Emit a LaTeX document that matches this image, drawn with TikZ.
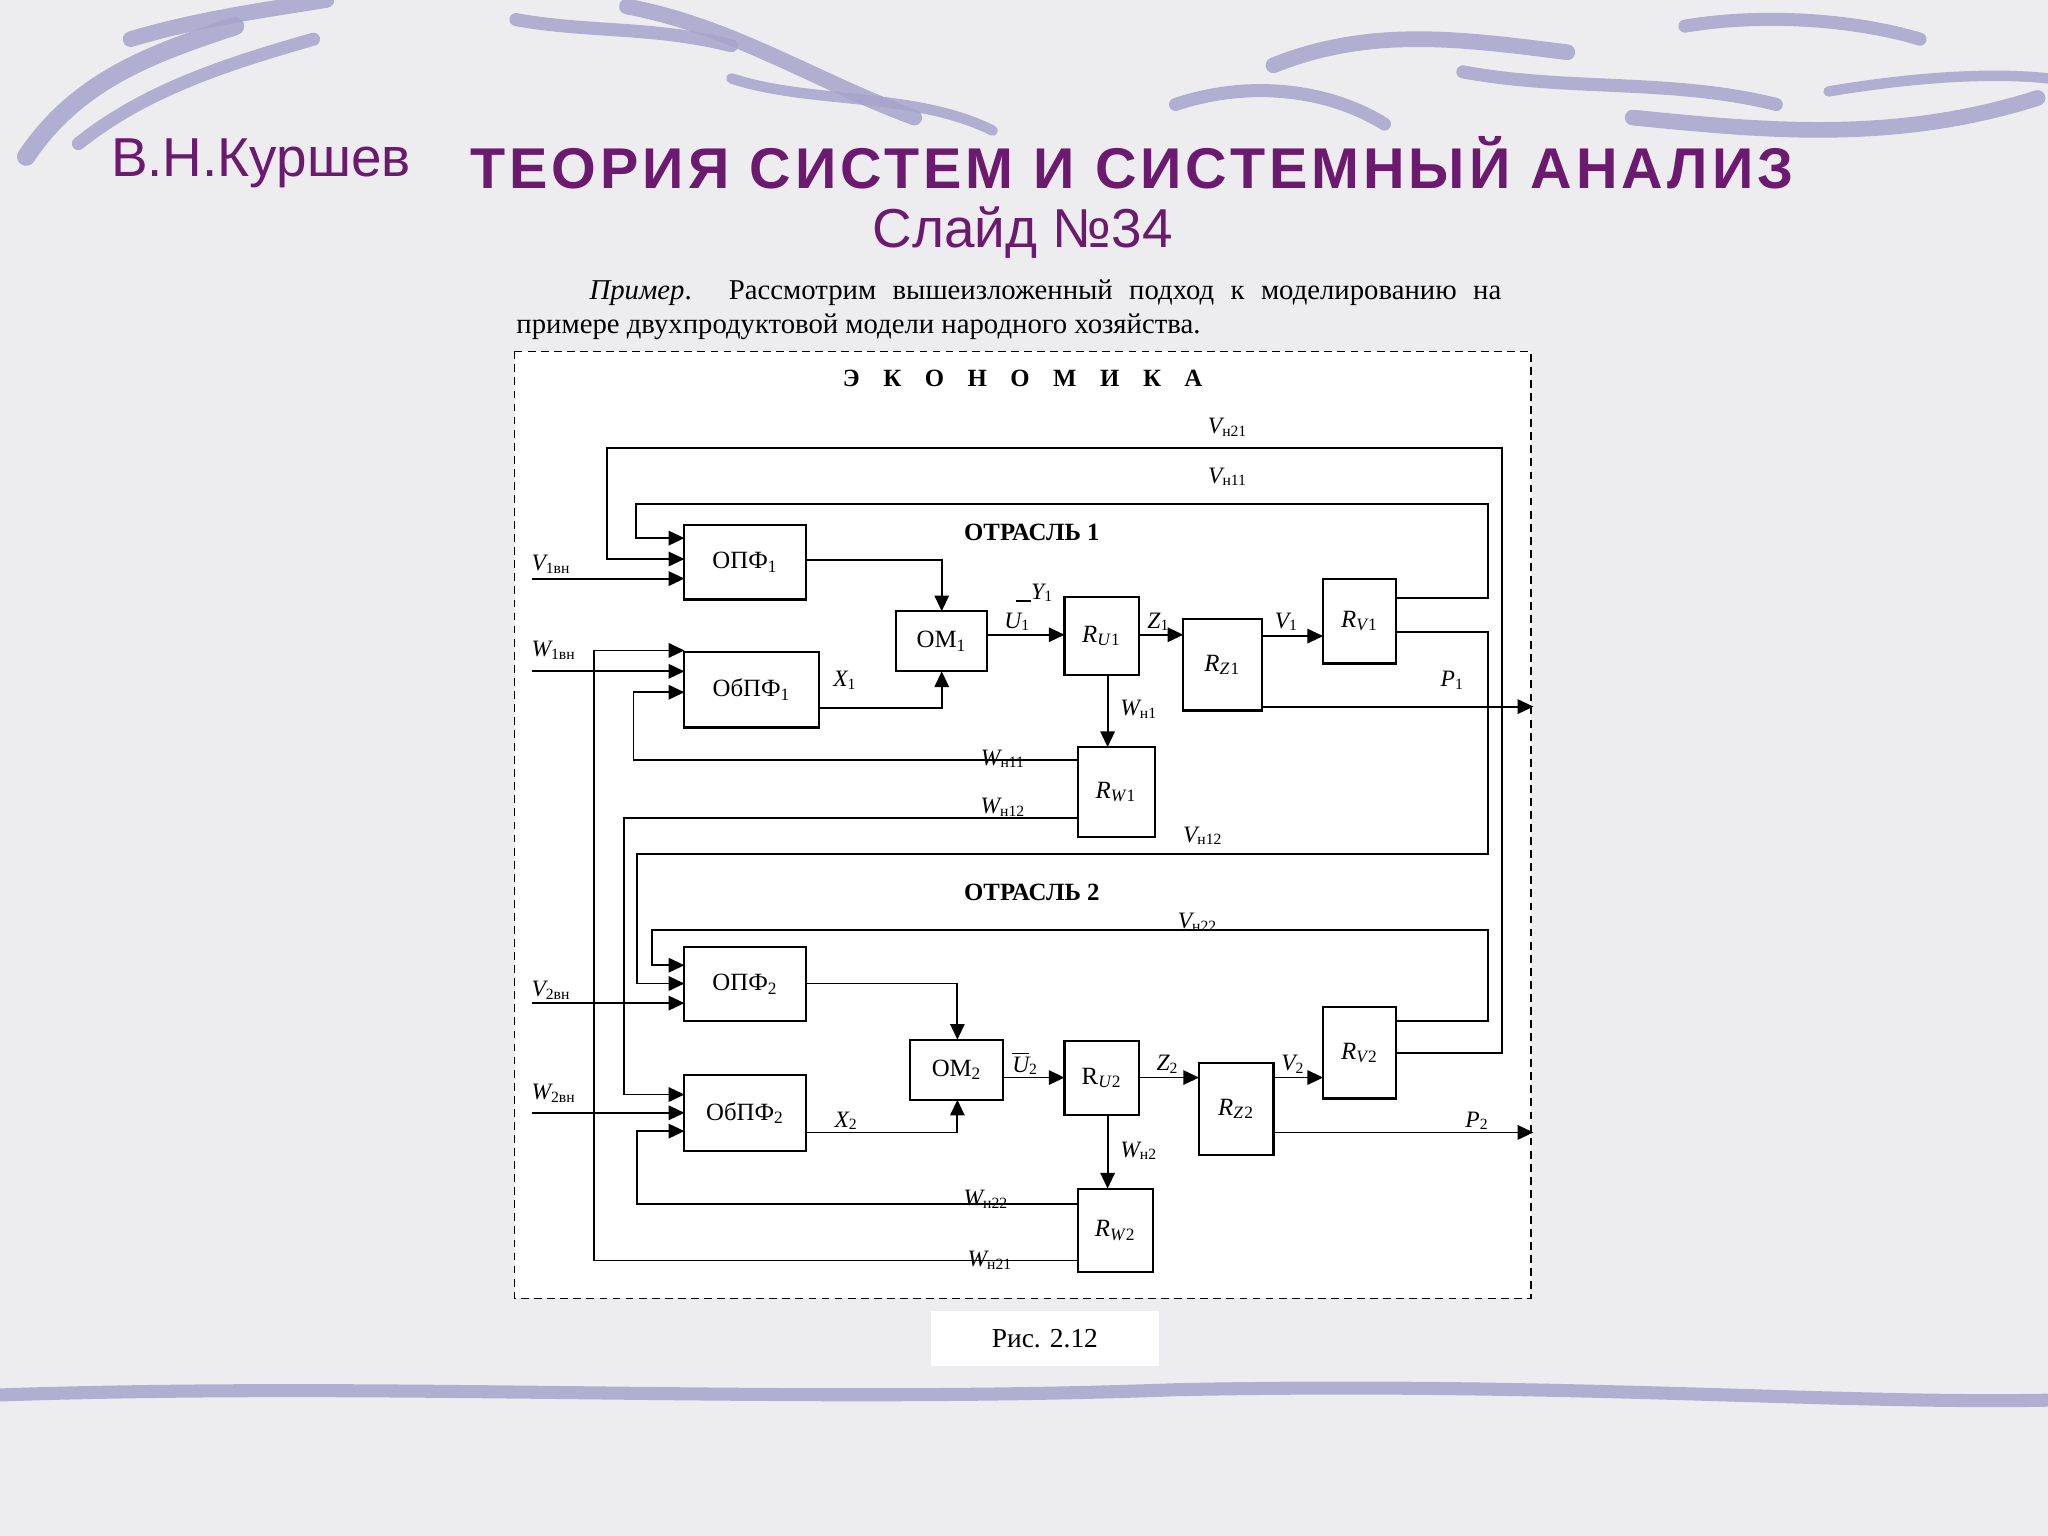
\documentclass[tikz,border=0pt]{standalone}
\usepackage{fontspec}
\setmainfont{Liberation Serif}
\newfontfamily\hsans{Liberation Sans}
\newfontfamily\hsanssp{Liberation Sans}[LetterSpace=7]
\usetikzlibrary{arrows.meta}
\definecolor{ttl}{HTML}{6B1A70}
\definecolor{bg}{HTML}{EDEDF0}
\definecolor{brush}{HTML}{A6A4CC}
\newcommand\B[6]{\node[box,minimum width={(#4-#2)*0.5pt},minimum height={(#5-#3)*0.5pt}] (#1) at ({(#2+#4)/2},{(#3+#5)/2}) {#6};}
\begin{document}
\begin{tikzpicture}[x=0.5pt,y=-0.5pt,
 box/.style={draw,line width=0.8pt,inner sep=0pt,outer sep=0pt,font=\fontsize{9.5}{11}\selectfont},
 ln/.style={line width=0.7pt},
 ar/.style={line width=0.7pt,-{Triangle[length=6pt,width=5.5pt]}},
 lb/.style={font=\fontsize{9}{10}\selectfont\itshape,inner sep=1pt},
 hd/.style={font=\fontsize{9.5}{11}\selectfont\bfseries}]
\useasboundingbox (0,0) rectangle (1568,1176);
\fill[bg] (0,0) rectangle (1568,1176);
% decorative strokes
\begin{scope}[brush,line cap=round,opacity=0.85]
\draw[line width=7pt] (20,120) .. controls (60,60) and (120,40) .. (180,20);
\draw[line width=5pt] (60,110) .. controls (110,70) and (170,50) .. (240,30);
\draw[line width=6pt] (100,30) .. controls (150,15) and (200,8) .. (250,0);
\draw[line width=5pt] (395,15) .. controls (450,25) and (500,20) .. (560,35);
\draw[line width=6pt] (480,5) .. controls (560,20) and (620,60) .. (700,90);
\draw[line width=4pt] (560,60) .. controls (620,80) and (700,70) .. (760,100);
\draw[line width=5pt] (900,80) .. controls (960,60) and (1020,70) .. (1060,95);
\draw[line width=6pt] (975,50) .. controls (1050,20) and (1120,30) .. (1200,40);
\draw[line width=5pt] (1120,55) .. controls (1200,70) and (1280,60) .. (1360,80);
\draw[line width=6pt] (1250,90) .. controls (1350,100) and (1450,110) .. (1560,75);
\draw[line width=4pt] (1400,70) .. controls (1460,60) and (1520,55) .. (1568,60);
\draw[line width=5pt] (1290,20) .. controls (1350,10) and (1420,15) .. (1470,30);
\draw[line width=5pt] (0,1068) .. controls (300,1058) and (600,1075) .. (900,1064) .. controls (1200,1058) and (1400,1075) .. (1568,1072);
\end{scope}
% titles
\node[anchor=west,text=ttl,font=\hsans\fontsize{21}{24}\selectfont] (author) at (78,125) {В.Н.Куршев};
\node[anchor=west,text=ttl,font=\hsanssp\bfseries\fontsize{22}{24}\selectfont] (ttl) at (353,125) {ТЕОРИЯ СИСТЕМ И СИСТЕМНЫЙ АНАЛИЗ};
\node[text=ttl,font=\hsans\fontsize{21}{24}\selectfont] (slide) at (783,178) {Слайд №34};
\node[anchor=north west,text width=377pt,align=justify,inner sep=0pt,font=\fontsize{11}{13}\selectfont] (par) at (395,214)
 {\hspace*{28pt}\textit{Пример}. Рассмотрим вышеизложенный подход к моделированию на примере двухпродуктовой модели народного хозяйства.};
\fill[white] (394,269) rectangle (1172,994);
\draw[dashed,line width=0.6pt,dash pattern=on 3pt off 2pt] (394,269) rectangle (1172,994);
\node[fill=white,minimum width=87pt,minimum height=21pt,font=\fontsize{10.5}{12}\selectfont] (fig) at (800,1025) {Рис. 2.12};
\node[hd] (eco) at (783,290) {Э\hspace{9pt}К\hspace{9pt}О\hspace{9pt}Н\hspace{9pt}О\hspace{9pt}М\hspace{9pt}И\hspace{9pt}К\hspace{9pt}А};
\node[hd] (o1) at (790,408) {ОТРАСЛЬ 1};
\node[hd] (o2) at (790,683) {ОТРАСЛЬ 2};
% blocks
\B{opf1}{524}{402}{617}{459}{ОПФ\textsubscript{1}}
\B{obpf1}{524}{499}{627}{557}{ОбПФ\textsubscript{1}}
\B{om1}{686}{468}{756}{514}{ОМ\textsubscript{1}}
\B{ru1}{815}{457}{872}{517}{\textit{R\textsubscript{U}}\textsubscript{1}}
\B{rz1}{906}{474}{966}{544}{\textit{R\textsubscript{Z}}\textsubscript{1}}
\B{rv1}{1013}{443}{1069}{508}{\textit{R\textsubscript{V}}\textsubscript{1}}
\B{rw1}{825}{572}{884}{641}{\textit{R\textsubscript{W}}\textsubscript{1}}
\B{opf2}{524}{725}{617}{782}{ОПФ\textsubscript{2}}
\B{obpf2}{524}{823}{617}{881}{ОбПФ\textsubscript{2}}
\B{om2}{697}{796}{768}{842}{ОМ\textsubscript{2}}
\B{ru2}{815}{797}{872}{854}{R\textsubscript{\textit{U}2}}
\B{rz2}{918}{814}{975}{884}{\textit{R\textsubscript{Z}}\textsubscript{2}}
\B{rv2}{1013}{771}{1069}{841}{\textit{R\textsubscript{V}}\textsubscript{2}}
\B{rw2}{825}{910}{883}{974}{\textit{R\textsubscript{W}}\textsubscript{2}}
% inputs
\coordinate (v1in) at (407,443);
\coordinate (w1in) at (407,514);
\coordinate (v2in) at (407,768);
\coordinate (w2in) at (407,852);
\coordinate (p1) at (1174,541);
\coordinate (p2) at (1174,867);
% branch 1
\draw[ar] (v1in) -- (opf1.west |- v1in);
\draw[ar] (w1in) -- (obpf1.west |- w1in);
\draw[ar] (rv2.east |- 0,806) -- (1150,806) -- (1150,343) -- (465,343) -- (465,428) -- (opf1.west |- 0,428);
\draw[ar] (rv1.east |- 0,458) -- (1139,458) -- (1139,386) -- (487,386) -- (487,412) -- (opf1.west |- 0,412);
\draw[ar] (opf1.east |- 0,429) -- (721,429) -- (om1.north -| 721,0);
\draw[ar] (obpf1.east |- 0,542) -- (721,542) -- (om1.south -| 721,0);
\draw[ar] (om1.east |- 0,486) -- (ru1.west |- 0,486);
\draw[ar] (ru1.east |- 0,486) -- (rz1.west |- 0,486);
\draw[ar] (rz1.east |- 0,487) -- (rv1.west |- 0,487);
\draw[ar] (ru1.south -| 848,0) -- (rw1.north -| 848,0);
\draw[ar] (rz1.east |- p1) -- (p1);
\draw[ar] (rw2.west |- 0,965) -- (455,965) -- (455,498) -- (obpf1.west |- 0,498);
\draw[ar] (rw1.west |- 0,582) -- (485,582) -- (485,530) -- (obpf1.west |- 0,530);
% branch 2
\draw[ar] (rv1.east |- 0,484) -- (1139,484) -- (1139,654) -- (488,654) -- (488,753) -- (opf2.west |- 0,753);
\draw[ar] (rv2.east |- 0,782) -- (1139,782) -- (1139,712) -- (499,712) -- (499,739) -- (opf2.west |- 0,739);
\draw[ar] (v2in) -- (opf2.west |- v2in);
\draw[ar] (rw1.west |- 0,626) -- (478,626) -- (478,838) -- (obpf2.west |- 0,838);
\draw[ar] (w2in) -- (obpf2.west |- w2in);
\draw[ar] (rw2.west |- 0,922) -- (488,922) -- (488,866) -- (obpf2.west |- 0,866);
\draw[ar] (opf2.east |- 0,753) -- (733,753) -- (om2.north -| 733,0);
\draw[ar] (obpf2.east |- 0,867) -- (733,867) -- (om2.south -| 733,0);
\draw[ar] (om2.east |- 0,825) -- (ru2.west |- 0,825);
\draw[ar] (ru2.east |- 0,825) -- (rz2.west |- 0,825);
\draw[ar] (rz2.east |- 0,825) -- (rv2.west |- 0,825);
\draw[ar] (ru2.south -| 848,0) -- (rw2.north -| 848,0);
\draw[ar] (rz2.east |- p2) -- (p2);
% labels
\node[lb] (lvn21) at (940,327) {V\textsubscript{\upshape н21}};
\node[lb] (lvn11) at (940,365) {V\textsubscript{\upshape н11}};
\node[lb] (lv1) at (422,432) {V\textsubscript{\upshape 1вн}};
\node[lb] (lw1) at (424,498) {W\textsubscript{\upshape 1вн}};
\node[lb] (lx1) at (647,521) {X\textsubscript{\upshape 1}};
\node[lb] (lu1) at (779,476) {U\textsubscript{\upshape 1}};
\node[lb] (ly1) at (792,454) {\rule[-1pt]{6pt}{0.6pt}Y\textsubscript{\upshape 1}};
\node[lb] (lz1) at (887,476) {Z\textsubscript{\upshape 1}};
\node[lb] (lv1o) at (985,476) {V\textsubscript{\upshape 1}};
\node[lb] (lp1) at (1112,521) {P\textsubscript{\upshape 1}};
\node[lb] (lwn1) at (872,543) {W\textsubscript{\upshape н1}};
\node[lb] (lwn11) at (768,581) {W\textsubscript{\upshape н11}};
\node[lb] (lwn12) at (768,618) {W\textsubscript{\upshape н12}};
\node[lb] (lvn12) at (921,640) {V\textsubscript{\upshape н12}};
\node[lb] (lvn22) at (917,706) {V\textsubscript{\upshape н22}};
\node[lb] (lv2) at (422,758) {V\textsubscript{\upshape 2вн}};
\node[lb] (lw2) at (424,837) {W\textsubscript{\upshape 2вн}};
\node[lb] (lx2) at (648,858) {X\textsubscript{\upshape 2}};
\node[lb] (lu2) at (785,814) {$\overline{\mbox{\itshape U}}$\textsubscript{\upshape 2}};
\node[lb] (lz2) at (894,815) {Z\textsubscript{\upshape 2}};
\node[lb] (lv2o) at (990,815) {V\textsubscript{\upshape 2}};
\node[lb] (lp2) at (1131,858) {P\textsubscript{\upshape 2}};
\node[lb] (lwn2) at (872,881) {W\textsubscript{\upshape н2}};
\node[lb] (lwn22) at (755,918) {W\textsubscript{\upshape н22}};
\node[lb] (lwn21) at (758,965) {W\textsubscript{\upshape н21}};
\end{tikzpicture}
\end{document}
